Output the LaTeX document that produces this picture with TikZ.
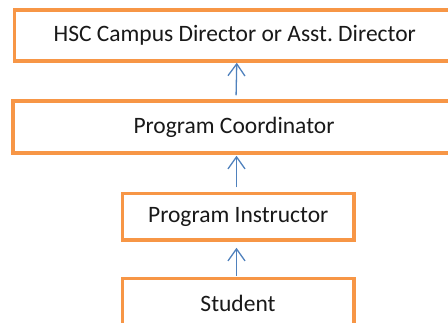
\documentclass[tikz,border=0pt]{standalone}
\usepackage{fontspec}
\setmainfont{Carlito}
\usetikzlibrary{arrows.meta}
\definecolor{boxorange}{HTML}{F79646}
\definecolor{arrblue}{HTML}{4F81BD}
\begin{document}
\begin{tikzpicture}[x=1pt,y=-1pt,
  box/.style={draw=boxorange,line width=3.5pt,fill=white,rectangle,inner sep=0pt,
    font=\fontsize{23.5}{28}\selectfont,text=black!90},
  arr/.style={draw=arrblue,line width=1.3pt,-{Straight Barb[length=12pt,width=17pt,line width=1.3pt]}}]
\useasboundingbox (0,0) rectangle (448,322);
\begin{scope}
\clip (0,0) rectangle (448,322);
\node[box,minimum width=440.5pt,minimum height=51pt] (b1) at (234.75,35.5) {HSC Campus Director or Asst.\ Director};
\node[box,minimum width=442pt,minimum height=52pt] (b2) at (234,127) {Program Coordinator};
\node[box,minimum width=231.5pt,minimum height=46.5pt] (b3) at (238.25,216.75) {Program Instructor};
\node[box,minimum width=231.5pt,minimum height=46.5pt,text depth=0pt] (b4) at (238.25,301.75) {};
\node[font=\fontsize{23.5}{28}\selectfont,text=black!90] (t4) at (238,303) {Student};
\draw[arr,shorten <=4pt] ([xshift=2pt]b2.north) -- ([xshift=2pt]b1.south);
\draw[arr,shorten <=4.5pt,shorten >=1pt] ([xshift=-1.75pt]b3.north) -- ([xshift=-1.75pt]b3.north |- b2.south);
\draw[arr,shorten <=1pt,shorten >=6pt] ([xshift=-1.75pt]b4.north) -- ([xshift=-1.75pt]b3.south);
\end{scope}
\end{tikzpicture}
\end{document}
